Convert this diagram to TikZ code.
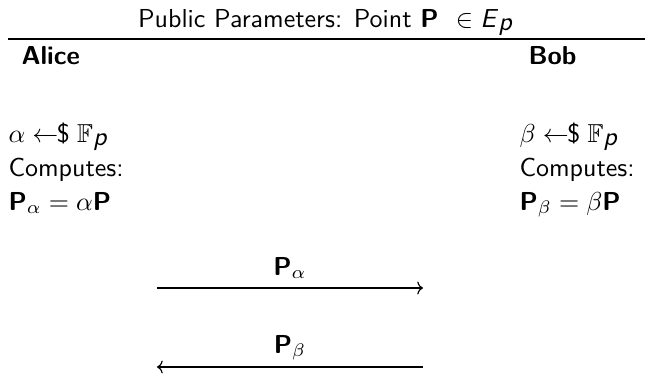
\documentclass[tikz,border=0pt]{standalone}
\usepackage{amssymb}
\usetikzlibrary{arrows.meta}
\newcommand{\sfit}[1]{\textsf{\textit{#1}}}
\newcommand{\sfbf}[1]{\textsf{\textbf{#1}}}
\newcommand{\smp}{\mathrel{\leftarrow\!\!\mbox{\$}}}
\begin{document}
\begin{tikzpicture}[x=0.385pt,y=-0.385pt,
  txt/.style={inner sep=0pt,anchor=base west,font=\sffamily},
  lbl/.style={inner sep=0pt,anchor=base,font=\sffamily},
  msg/.style={line width=0.45pt,-{To[length=2.2pt,width=5pt]}}]
\useasboundingbox (0,0) rectangle (646,373);
% title and rule
\node[lbl] (title) at (326,27) {Public Parameters: Point \sfbf{P} $\ \in \sfit{E}_{\sfit{p}}$};
\coordinate (rl) at (8,39);
\coordinate (rr) at (645,39);
\draw[line width=0.6pt] (rl) -- (rr);
% headers
\node[txt,font=\sffamily\bfseries] (alice) at (21,64) {Alice};
\node[txt,font=\sffamily\bfseries] (bob) at (528,64) {Bob};
% Alice side
\node[txt] (a1) at (8,142) {$\alpha \smp \mathbb{F}_{\sfit{p}}$};
\node[txt] (a2) at (8,176) {Computes:};
\node[txt] (a3) at (8,210) {\sfbf{P}$_\alpha = \alpha$\sfbf{P}};
% Bob side
\node[txt] (b1) at (519,142) {$\beta \smp \mathbb{F}_{\sfit{p}}$};
\node[txt] (b2) at (519,176) {Computes:};
\node[txt] (b3) at (519,210) {\sfbf{P}$_\beta = \beta$\sfbf{P}};
% messages
\coordinate (m1l) at (157,288);
\coordinate (m1r) at (423,288);
\coordinate (m2l) at (157,367);
\coordinate (m2r) at (423,367);
\node[lbl] (l1) at (290,275) {\sfbf{P}$_\alpha$};
\node[lbl] (l2) at (290,353) {\sfbf{P}$_\beta$};
\draw[msg] (m1l) -- (m1r);
\draw[msg] (m2r) -- (m2l);
\end{tikzpicture}
\end{document}
